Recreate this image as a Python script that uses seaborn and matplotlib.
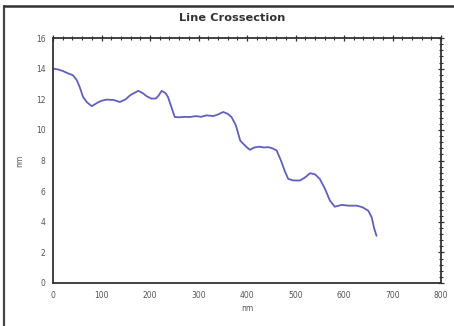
import numpy as np
import pandas as pd
import matplotlib
matplotlib.use('Agg')
import matplotlib.pyplot as plt
from matplotlib.ticker import MultipleLocator
from matplotlib.lines import Line2D
import seaborn as sns

# profile (position in nm, height in nm)
position = [0, 10, 20, 30, 41, 49, 55, 62, 70, 80, 93, 100, 111, 125, 138, 150,
            159, 170, 176, 185, 193, 203, 212, 218, 224, 232, 237, 244, 251,
            260, 270, 282, 295, 305, 317, 330, 340, 351, 360, 368, 377, 386,
            392, 400, 406, 415, 425, 435, 444, 452, 461, 470, 478, 485, 495,
            509, 520, 530, 540, 550, 560, 571, 581, 595, 610, 626, 638, 650,
            657, 662, 667]
height = [14.0, 13.95, 13.85, 13.7, 13.57, 13.25, 12.8, 12.15, 11.8, 11.55,
          11.8, 11.9, 11.98, 11.95, 11.82, 12.0, 12.26, 12.45, 12.55, 12.4,
          12.2, 12.04, 12.05, 12.25, 12.55, 12.4, 12.15, 11.5, 10.84,
          10.82, 10.85, 10.84, 10.9, 10.85, 10.95, 10.9, 11.0, 11.17, 11.05,
          10.84, 10.3, 9.3, 9.1, 8.85, 8.7, 8.85, 8.9, 8.85, 8.87, 8.8,
          8.66, 8.0, 7.3, 6.8, 6.7, 6.69, 6.9, 7.17, 7.1, 6.8, 6.2, 5.38,
          4.98, 5.1, 5.05, 5.05, 4.95, 4.72, 4.3, 3.6, 3.08]

df = pd.DataFrame({'position': position, 'height': height})

sns.set_style('white')
plt.rcParams['font.family'] = ['DejaVu Sans']

fig = plt.figure(figsize=(4.54, 3.26), dpi=100)
ax = fig.add_axes([53 / 454, 1 - 283 / 326, (441 - 53) / 454, (283 - 38) / 326])

sns.lineplot(data=df, x='position', y='height', ax=ax, color='#6060bc',
             linewidth=1.3)

ax.set_xlim(0, 800)
ax.set_ylim(0, 16)
ax.xaxis.set_major_locator(MultipleLocator(100))
ax.xaxis.set_minor_locator(MultipleLocator(20))
ax.yaxis.set_major_locator(MultipleLocator(2))
ax.yaxis.set_minor_locator(MultipleLocator(0.4))
ax.tick_params(which='both', direction='inout', top=True, right=True,
               color='#333333', labelsize=5.5, labelcolor='#555555', pad=3)
ax.tick_params(which='major', length=5, width=0.9)
ax.tick_params(which='minor', length=3, width=0.8)
for s in ax.spines.values():
    s.set_color('#333333')
    s.set_linewidth(1.3)

ax.set_xlabel('nm', fontsize=5.5, color='#555555', labelpad=3)
ax.set_ylabel('nm', fontsize=5.5, color='#555555', labelpad=8)
fig.text(232 / 454, 1 - 18 / 326, 'Line Crossection', fontsize=8.2,
         fontweight='bold', color='#333333', ha='center', va='center')

# outer frame of the picture (top and left edges)
fig.add_artist(Line2D([4 / 454, 4 / 454], [0, 1 - 6 / 326], color='#444444',
                      linewidth=1.6, transform=fig.transFigure))
fig.add_artist(Line2D([4 / 454, 1], [1 - 6 / 326, 1 - 6 / 326], color='#333333',
                      linewidth=1.8, transform=fig.transFigure))

fig.savefig('out.png', dpi=100)
